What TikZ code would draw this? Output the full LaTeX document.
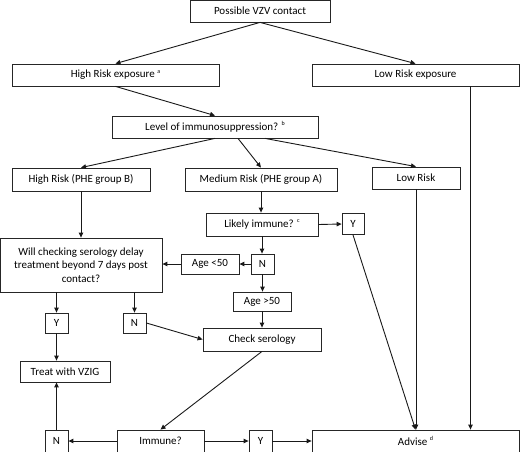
\documentclass[tikz,border=0pt]{standalone}
\usepackage{fontspec}
\setmainfont{Carlito}
\usetikzlibrary{arrows.meta}
\newcommand{\supnote}[1]{\raisebox{0.45em}{\fontsize{6}{6}\selectfont #1}}
\begin{document}
\begin{tikzpicture}[x=1pt,y=-1pt,
  box/.style={draw=black!85, line width=0.8pt, inner sep=1pt, align=center, font=\fontsize{11}{13.5}\selectfont},
  arr/.style={draw=black!90, line width=0.9pt, -{Triangle[length=5pt,width=4.5pt]}}]
\useasboundingbox (0,0) rectangle (520,452);
\node[box, minimum width=140pt, minimum height=22pt] (vzv) at (260,11) {Possible VZV contact};
\node[box, minimum width=207pt, minimum height=22pt] (hre) at (115.5,75) {High Risk exposure \supnote{a}};
\node[box, minimum width=207pt, minimum height=22pt] (lre) at (415.5,75) {Low Risk exposure};
\node[box, minimum width=206pt, minimum height=22pt] (lvl) at (215,127) {Level of immunosuppression? \supnote{b}};
\node[box, minimum width=138pt, minimum height=23pt] (hrb) at (81,179.5) {High Risk (PHE group B)};
\node[box, minimum width=152pt, minimum height=23pt] (mr) at (261,179.5) {Medium Risk (PHE group A)};
\node[box, minimum width=88pt, minimum height=22pt] (lr) at (416,178) {Low Risk};
\node[box, minimum width=112pt, minimum height=23pt] (li) at (262,224.5) {Likely immune? \supnote{c}};
\node[box, minimum width=22pt, minimum height=21pt] (y1) at (353,224) {Y};
\node[box, minimum width=162pt, minimum height=54pt] (will) at (81,265) {Will checking serology delay\\treatment beyond 7 days post\\contact?};
\node[box, minimum width=58pt, minimum height=20pt] (age1) at (210,264) {Age <50};
\node[box, minimum width=23pt, minimum height=20pt] (n1) at (262.5,264) {N};
\node[box, minimum width=58pt, minimum height=19pt] (age2) at (262,301.5) {Age >50};
\node[box, minimum width=23pt, minimum height=20pt] (y2) at (56.5,323) {Y};
\node[box, minimum width=23pt, minimum height=20pt] (n2) at (134.5,323) {N};
\node[box, minimum width=118pt, minimum height=23pt] (cs) at (262,339.5) {Check serology};
\node[box, minimum width=90pt, minimum height=21pt] (tv) at (65,371.5) {Treat with VZIG};
\node[box, minimum width=23pt, minimum height=22pt] (n3) at (56.5,441) {N};
\node[box, minimum width=87pt, minimum height=22pt] (imm) at (160.5,441) {Immune?};
\node[box, minimum width=23pt, minimum height=22pt] (y3) at (260.5,441) {Y};
\node[box, minimum width=207pt, minimum height=22pt] (adv) at (415.5,441) {Advise \supnote{d}};
% connectors
\draw[arr] (vzv.south) -- (hre.north);
\draw[arr] (vzv.south) -- (lre.north);
\draw[arr] (hre.south) -- (lvl.north);
\draw[arr] (lvl.south) -- (hrb.north);
\draw[arr] ([xshift=23pt]lvl.south) -- (mr.north);
\draw[arr] ([xshift=50pt]lvl.south) -- (lr.north);
\draw[arr] ([xshift=55pt]lre.south) -- ([xshift=55pt]adv.north);
\draw[arr] (hrb.south) -- (hrb.south |- will.north);
\draw[arr] (mr.south) -- (mr.south |- li.north);
\draw[arr] (li.east) -- (y1.west);
\draw[arr] (li.south) -- (li.south |- n1.north);
\draw[arr] (n1.west) -- (age1.east);
\draw[arr] (age1.west) -- (age1.west -| will.east);
\draw[arr] (n1.south) -- (n1.south |- age2.north);
\draw[arr] (y2.north |- will.south) -- (y2.north);
\draw[arr] (n2.north |- will.south) -- (n2.north);
\draw[arr] (age2.south) -- (age2.south |- cs.north);
\draw[arr] (n2.east) -- (cs.west);
\draw[arr] (y2.south) -- (y2.south |- tv.north);
\draw[arr] (cs.south) -- (imm.north);
\draw[arr] (imm.west) -- (n3.east);
\draw[arr] (imm.east) -- (y3.west);
\draw[arr] (y3.east) -- (adv.west);
\draw[arr] (n3.north) -- (n3.north |- tv.south);
\draw[arr] (y1.south) -- (adv.north);
\draw[arr] (lr.south) -- (lr.south |- adv.north);
\end{tikzpicture}
\end{document}
